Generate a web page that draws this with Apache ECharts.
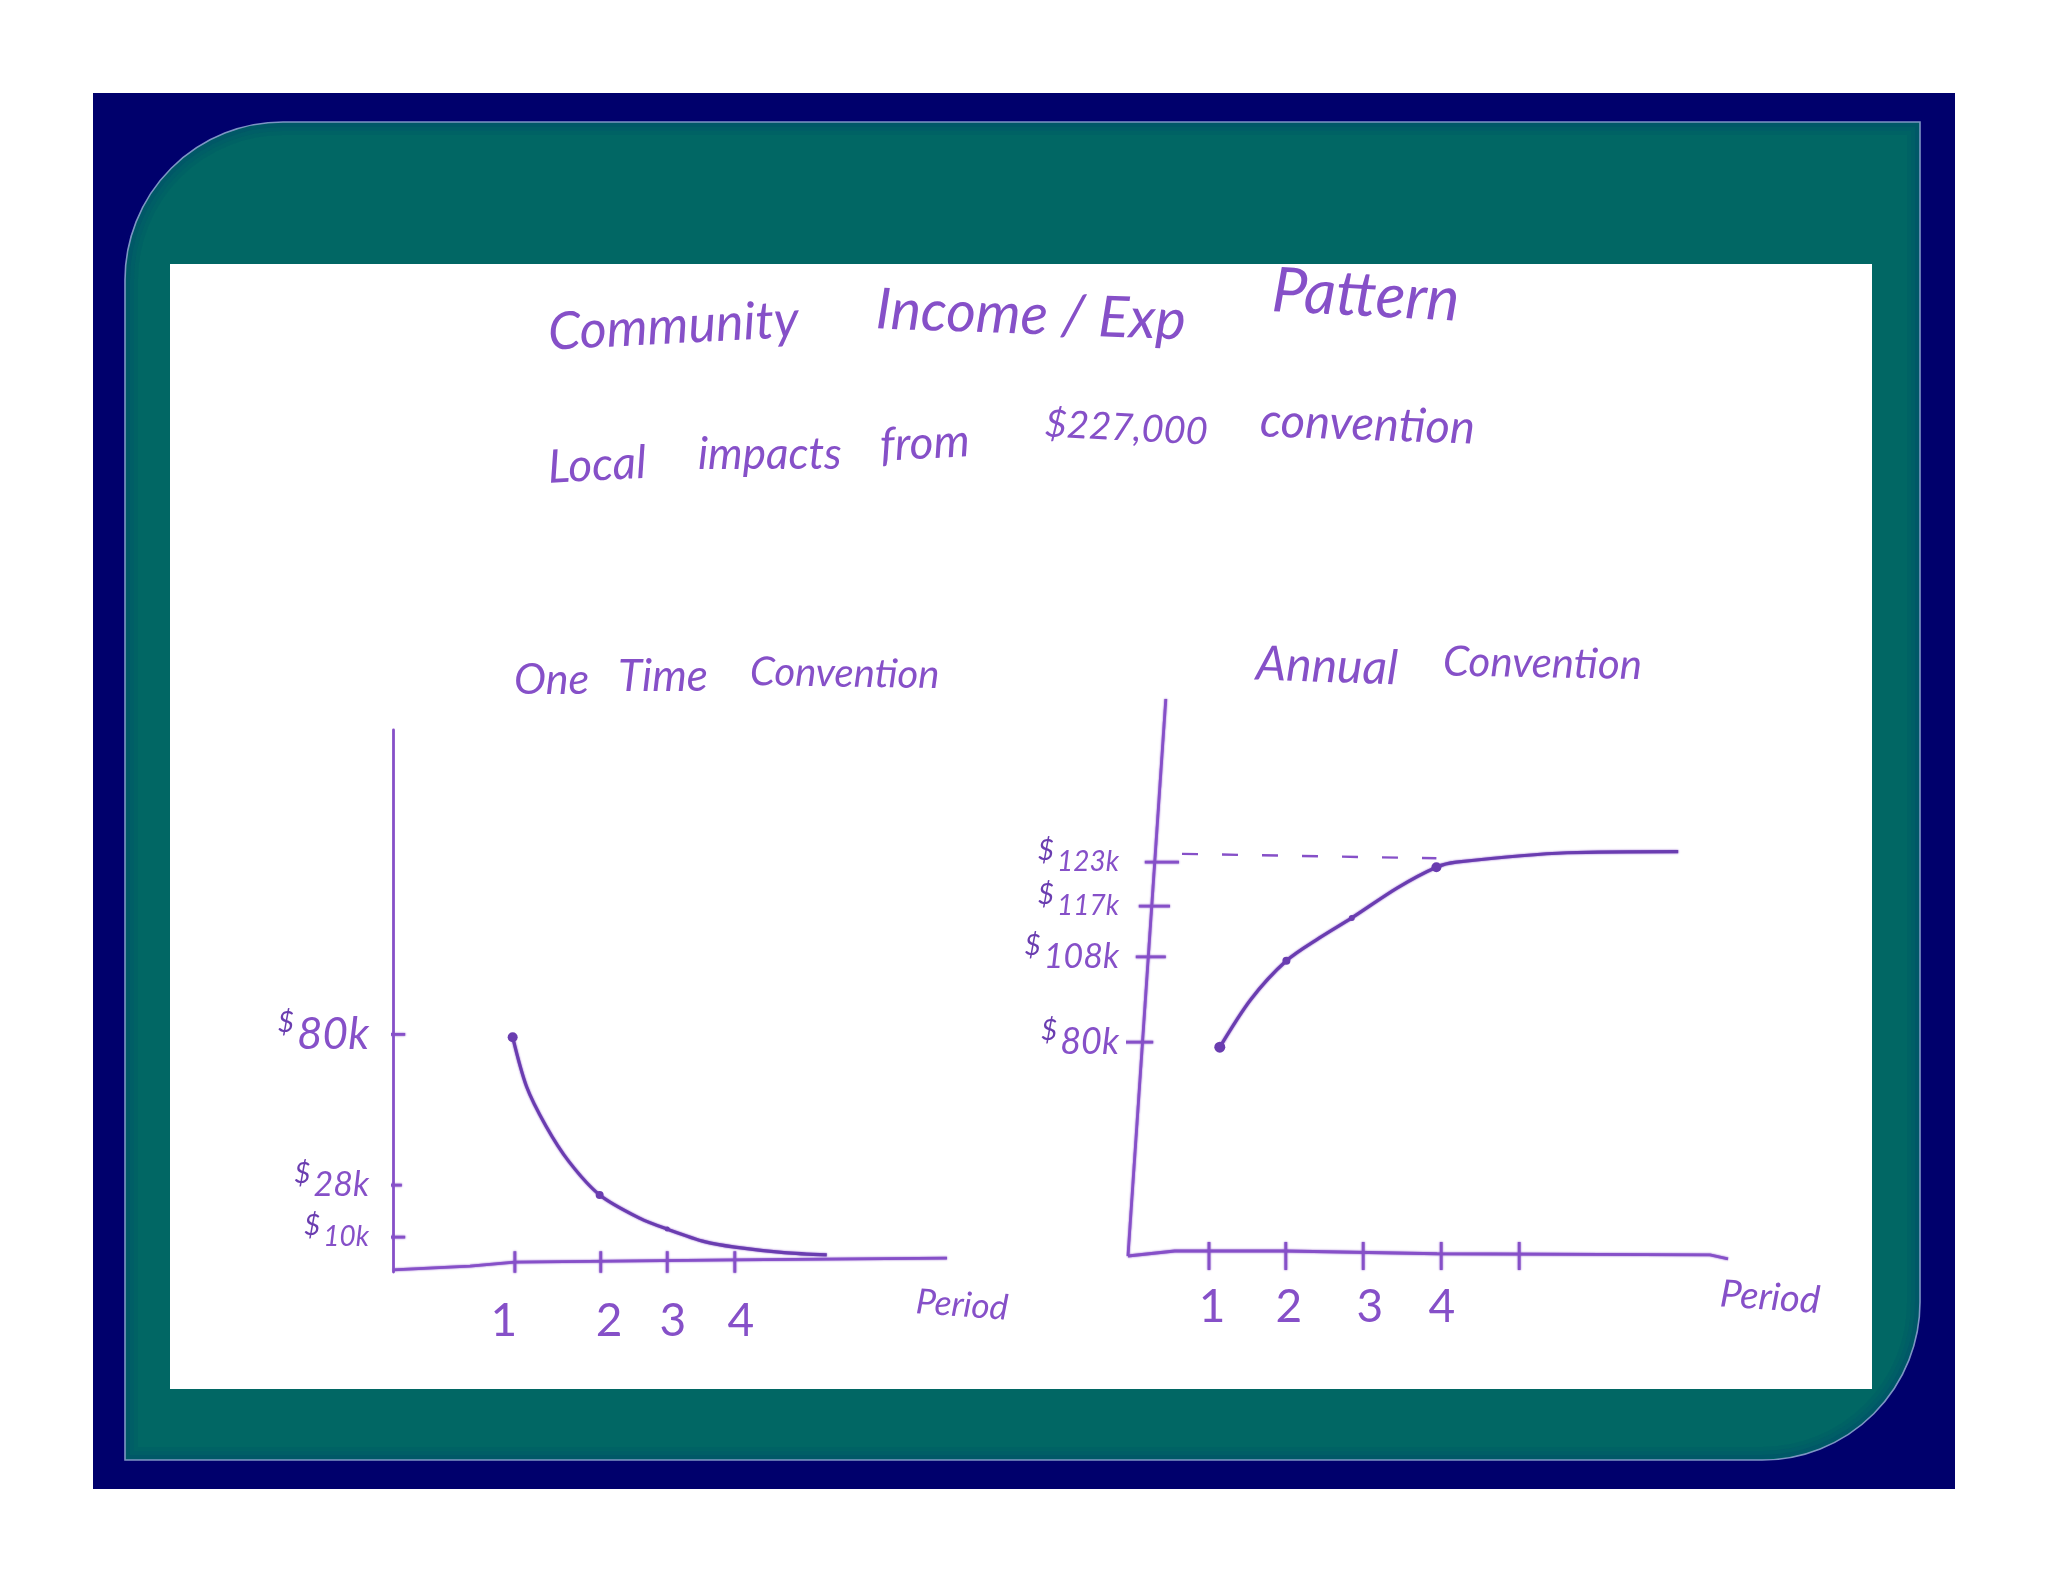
<!DOCTYPE html>
<html><head><meta charset="utf-8">
<style>html,body{margin:0;padding:0;background:#fff}#c{width:2048px;height:1582px}</style>
<script src="https://cdn.jsdelivr.net/npm/echarts@6/dist/echarts.min.js"></script></head>
<body><div id="c"></div>
<script>
// ---- text ----
const titleWords = ['Community','Income / Exp','Pattern'];
const subtitleWords = ['Local','impacts','from','$227,000','convention'];
const leftTitleWords = ['One','Time','Convention'];
const rightTitleWords = ['Annual','Convention'];
const axisName = 'Period';

// ---- left chart: One Time Convention (y in $k, x in positions along the sketched axis) ----
const leftPeriodLabels = ['1','2','3','4'];
const leftPeriodTicks  = [22, 37.5, 49.5, 61.7];
const leftLabelSpots   = [20, 39, 50.5, 62.8];
const leftCurveX = [21.6, 24.1, 27.6, 31.8, 37.3, 44.6, 49.5, 56.4, 61.7, 70.6, 78.3];
const leftCurveY = [79, 62, 48.4, 36, 24.6, 16.5, 12.8, 8.4, 6.6, 4.7, 3.9];
const leftDollarTicks = [80, 28, 10];
const leftAxisX = [0, 13.9, 22, 61.7, 100];
const leftAxisY = [-1.3, 0, 1.4, 2.2, 2.8];

// ---- right chart: Annual Convention (sketch is not to scale: heights) ----
const rightPeriodLabels = ['1','2','3','4'];
const rightPeriodTicks  = [13.5, 26.3, 39.2, 52.2, 65.2];
const rightLabelSpots   = [14, 26.8, 40.3, 52.3];
const rightDollarLabels = ['$80k','$108k','$117k','$123k'];
const rightTickHeights  = [38.4, 53.7, 62.8, 70.7];
const rightCurveX = [15.3, 20.5, 26.4, 31.9, 37.3, 44.9, 51.4, 54.7, 73.2, 91.7];
const rightCurveY = [37.5, 46.1, 53, 57.1, 60.7, 66.1, 69.8, 70.7, 72.4, 72.6];
const rightDashX = [9, 51.4];
const rightDashY = [72.2, 71.4];
const rightAxisX = [0, 7.8, 26.3, 51.5, 97, 100];
const rightAxisY = [0, 0.9, 0.9, 0.4, 0.2, -0.5];
const rightSpineX = [6.3, 0];
const rightSpineY = [100, 0];

// ---- styles ----
const INK='#8650c8', INK_DARK='#6a3db0', FONT='Lato';
const zip=(a,b)=>a.map((v,i)=>[v,b[i]]);
const segs=list=>{const o=[];list.forEach(s=>{o.push(s[0],s[1],[null,null]);});return o;};
const inkLine=(grid,data,extra={})=>Object.assign({type:'line',xAxisIndex:grid,yAxisIndex:grid,data,clip:false,
  symbol:'none',silent:true,z:6,connectNulls:false,lineStyle:{color:INK,width:2.8,shadowBlur:2,shadowColor:INK},animation:false},extra);
const word=(text,x,y,size,rot=0,extra={})=>({type:'text',x,y,rotation:rot*Math.PI/180,z:20,
  style:Object.assign({text,fill:INK,font:`italic 400 ${size}px ${FONT}`,textAlign:'left',textVerticalAlign:'middle'},extra)});

const teal={x:125,y:122,width:1795,height:1338,r:[158,0,158,0]};
const inset=(d,color)=>({type:'rect',z:1,shape:{x:teal.x+d,y:teal.y+d,width:teal.width-2*d,height:teal.height-2*d,r:[158-d,0,158-d,0]},
  style:{fill:'none',stroke:color,lineWidth:4}});
const bg=[
 {type:'rect',z:0,shape:{x:93,y:93,width:1862,height:1396},style:{fill:'#00006c'}},
 {type:'rect',z:1,shape:teal,style:{fill:'#016764',stroke:'#7d94c4',lineWidth:1.6}},
 inset(3,'rgba(0,60,110,0.35)'),inset(7,'rgba(0,60,110,0.2)'),inset(11,'rgba(0,60,110,0.1)'),
 {type:'rect',z:2,shape:{x:170,y:264,width:1702,height:1125},style:{fill:'#ffffff'}}
];
const texts=[
 word(titleWords[0],548,333,52,3),
 word(titleWords[1],876,310,57,-2),
 word(titleWords[2],1272,291,62,-3),
 word(subtitleWords[0],548,468,46,3),
 word(subtitleWords[1],698,455,44,0),
 word(subtitleWords[2],880,446,46,3),
 word(subtitleWords[3],1045,424,38,-3),
 word(subtitleWords[4],1260,421,47,-2),
 word(leftTitleWords[0],514,680,43,0),
 word(leftTitleWords[1],618,677,44,0),
 word(leftTitleWords[2],750,672,40,-1),
 word(rightTitleWords[0],1256,664,48,-2),
 word(rightTitleWords[1],1443,662,42,-1),
 word(axisName,916,1302,35,-4),
 word(axisName,1720,1294,38,-4)
];
const num=s=>({fontSize:s,fontFamily:FONT,fontStyle:'italic',fontWeight:400,color:INK});
const richL={d:{fontSize:28,fontFamily:FONT,fontStyle:'italic',color:INK_DARK,verticalAlign:'bottom',padding:[0,3,22,0]},
  a:num(44),b:num(34),c:num(28),e:num(36),g:num(34),f:num(28)};
const rightStyles=['e','g','f','f'];
const xLabel={color:INK,fontFamily:FONT,fontWeight:400,fontSize:46};

const option={
 animation:false,backgroundColor:'#fff',graphic:{elements:bg.concat(texts)},
 grid:[{left:393,top:730,width:554,height:542},{left:1128,top:699,width:600,height:557}],
 xAxis:[
  {gridIndex:0,type:'value',z:6,min:0,max:100,splitLine:{show:false},axisLine:{show:false},axisTick:{show:false},
   axisLabel:Object.assign({customValues:leftLabelSpots,margin:26,formatter:v=>leftPeriodLabels[leftLabelSpots.indexOf(v)]||''},xLabel)},
  {gridIndex:1,type:'value',z:6,min:0,max:100,splitLine:{show:false},axisLine:{show:false},axisTick:{show:false},
   axisLabel:Object.assign({customValues:rightLabelSpots,margin:28,formatter:v=>rightPeriodLabels[rightLabelSpots.indexOf(v)]||''},xLabel)}
 ],
 yAxis:[
  {gridIndex:0,type:'value',min:-2,max:185,splitLine:{show:false},z:6,
   axisLine:{show:true,onZero:false,lineStyle:{color:INK,width:2.8}},axisTick:{show:false},
   axisLabel:{customValues:leftDollarTicks,margin:24,align:'right',rich:richL,
     formatter:v=>{const st={80:'a',28:'b',10:'c'}[v];return `{d|$}{${st}|${v}k}`;}}},
  {gridIndex:1,type:'value',z:6,min:0,max:100,splitLine:{show:false},axisLine:{show:false},axisTick:{show:false},
   axisLabel:{customValues:rightTickHeights,margin:9,align:'right',rich:richL,
     formatter:v=>{const i=rightTickHeights.indexOf(v);return `{d|$}{${rightStyles[i]}|${rightDollarLabels[i].slice(1)}}`;}}}
 ],
 series:[
  // left sketch
  inkLine(0,zip(leftAxisX,leftAxisY)),
  inkLine(0,segs(leftPeriodTicks.map(x=>[[x,-2.3],[x,5.2]]))),
  inkLine(0,segs([[[-2.5,80],[2.2,80]],[[-3.8,28],[1.6,28]],[[-0.9,10],[2.2,10]]])),
  inkLine(0,zip(leftCurveX,leftCurveY),{smooth:0.3,lineStyle:{color:INK_DARK,width:3.2,shadowBlur:2,shadowColor:INK},z:7,
    showSymbol:true,symbol:'circle',symbolSize:(v,p)=>[10,0,0,0,8,0,5,0,0,0,0][p.dataIndex],itemStyle:{color:INK_DARK}}),
  // right sketch
  inkLine(1,zip(rightSpineX,rightSpineY)),
  inkLine(1,zip(rightAxisX,rightAxisY)),
  inkLine(1,segs(rightPeriodTicks.map(x=>[[x,-2.5],[x,2.5]]))),
  inkLine(1,segs([[[-0.8,38.4],[4.2,38.4]],[[1.3,53.7],[6.3,53.7]],[[1.8,62.8],[7,62.8]],[[2.8,70.7],[8.5,70.7]]])),
  inkLine(1,zip(rightDashX,rightDashY),{lineStyle:{color:INK,width:2.4,type:[16,24]}}),
  inkLine(1,zip(rightCurveX,rightCurveY),{smooth:0.3,lineStyle:{color:INK_DARK,width:3.2,shadowBlur:2,shadowColor:INK},z:7,
    showSymbol:true,symbol:'circle',symbolSize:(v,p)=>[11,0,8,0,6,0,10,0,0,0][p.dataIndex],itemStyle:{color:INK_DARK}})
 ]
};
echarts.init(document.getElementById('c'),null,{renderer:'canvas'}).setOption(option);
</script></body></html>
